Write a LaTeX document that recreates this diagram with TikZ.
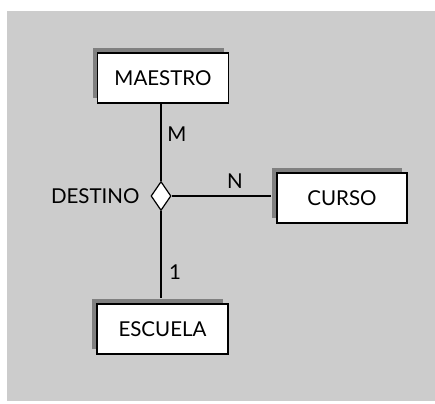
\documentclass[tikz,border=0pt]{standalone}
\usepackage{fontspec}
\setmainfont{Lato}
\usetikzlibrary{shapes.geometric,shadows,positioning}
\definecolor{fondo}{gray}{0.8}
\definecolor{sombra}{gray}{0.5}

\begin{document}
\begin{tikzpicture}[x=1pt, y=1pt, line width=1.2pt,
    font=\fontsize{20.5}{24}\selectfont,
    entidad/.style={rectangle, draw, fill=white, minimum height=50pt,
                    minimum width=131pt,
                    drop shadow={shadow xshift=-5pt, shadow yshift=5pt,
                                 fill=sombra, opacity=1}},
    relacion/.style={diamond, draw, fill=white, minimum width=20pt,
                     minimum height=29pt, inner sep=0pt},
    linea/.style={-, line width=1.2pt}]
    \fill[fondo] (7,2) rectangle (435,392);
    \useasboundingbox (0,0) rectangle (435,403);
    \node[entidad] (maestro) at (163,325) {MAESTRO};
    \node[relacion] (destino) at (161,207) {};
    \node[entidad, minimum width=130pt] (curso) at (342,205) {CURSO};
    \node[entidad] (escuela) at (162.5,74) {ESCUELA};
    \node[left=7pt of destino] (nombre) {DESTINO};
    \node (cardM) at (177,269) {M};
    \node (cardN) at (235,222) {N};
    \node (card1) at (175,131) {1};
    \draw[linea] (destino.north) -- (destino.north |- maestro.south);
    \draw[linea, shorten >=5pt] (destino.south) -- (destino.south |- escuela.north);
    \draw[linea, shorten >=5pt] (destino.east) -- (destino.east -| curso.west);
\end{tikzpicture}
\end{document}
